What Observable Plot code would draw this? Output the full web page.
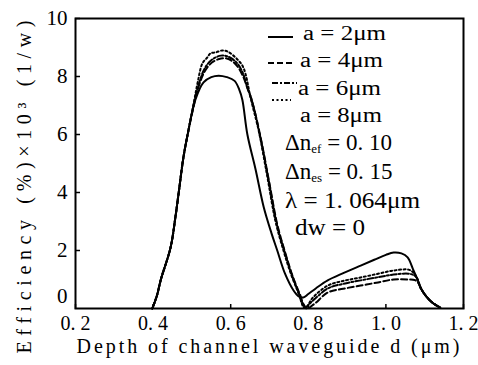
<!DOCTYPE html>
<html><head><meta charset="utf-8">
<script src="https://cdn.jsdelivr.net/npm/d3@7"></script>
<script src="https://cdn.jsdelivr.net/npm/@observablehq/plot@0.6"></script>
<style>
body{margin:0;background:#fff}
#chart{position:relative;width:478px;height:365px;overflow:hidden}
</style>
</head><body><div id="chart"></div>
<script>
// Series names
const seriesNames = ["a = 2μm", "a = 4μm", "a = 6μm", "a = 8μm"];
// Depth (μm) and efficiency (%×10³ 1/W)
const d_a2 = [0.398,0.41,0.42,0.445,0.458,0.468,0.478,0.489,0.509,0.53,0.55,0.569,0.59,0.61,0.622,0.63,0.643,0.664,0.685,0.705,0.72,0.74,0.762,0.775,0.787,0.80,0.82,0.85,0.89,0.935,0.97,1.0,1.02,1.04,1.056,1.07,1.08,1.09,1.105,1.12,1.14];
const e_a2 = [0,0.45,1.0,2.1,3.2,4.2,5.2,6.0,7.2,7.8,7.98,8.03,7.98,7.85,7.55,7.2,6.0,4.8,3.5,2.6,2.0,1.2,0.62,0.42,0.38,0.5,0.7,0.97,1.22,1.48,1.68,1.85,1.93,1.9,1.76,1.35,1.05,0.7,0.4,0.2,0.03];
const d_a4 = [0.398,0.41,0.42,0.445,0.458,0.468,0.478,0.489,0.505,0.515,0.53,0.545,0.56,0.575,0.59,0.605,0.62,0.632,0.643,0.656,0.677,0.70,0.72,0.741,0.76,0.778,0.795,0.815,0.85,0.89,0.935,0.98,1.02,1.058,1.075,1.085,1.09,1.105,1.12,1.14];
const e_a4 = [0,0.45,1.0,2.1,3.2,4.2,5.2,6.0,7.0,7.55,8.1,8.4,8.55,8.62,8.62,8.52,8.3,8.0,7.6,7.1,5.9,4.3,2.9,1.9,1.1,0.5,0.0,0.15,0.55,0.68,0.79,0.9,1.0,1.0,0.98,0.85,0.7,0.4,0.2,0.03];
const d_a6 = [0.398,0.41,0.42,0.445,0.458,0.468,0.478,0.489,0.505,0.515,0.53,0.545,0.56,0.575,0.59,0.605,0.62,0.632,0.641,0.654,0.675,0.698,0.718,0.739,0.758,0.775,0.79,0.81,0.85,0.89,0.935,0.98,1.02,1.058,1.072,1.08,1.09,1.105,1.12,1.14];
const e_a6 = [0,0.45,1.0,2.1,3.2,4.2,5.2,6.0,7.05,7.6,8.2,8.5,8.65,8.72,8.7,8.6,8.4,8.1,7.7,7.2,6.0,4.4,2.95,1.95,1.15,0.55,0.03,0.25,0.69,0.85,0.97,1.08,1.17,1.2,1.15,1.05,0.7,0.4,0.2,0.03];
const d_a8 = [0.398,0.41,0.42,0.445,0.458,0.468,0.478,0.489,0.505,0.515,0.527,0.54,0.548,0.561,0.579,0.592,0.607,0.62,0.63,0.638,0.651,0.672,0.695,0.715,0.736,0.755,0.772,0.785,0.795,0.81,0.85,0.89,0.935,0.98,1.02,1.058,1.07,1.08,1.09,1.105,1.12,1.14];
const e_a8 = [0,0.45,1.0,2.1,3.2,4.2,5.2,6.0,7.1,7.8,8.45,8.66,8.8,8.83,8.9,8.86,8.72,8.55,8.38,8.1,7.28,6.14,4.5,3.03,2.0,1.2,0.62,0.2,0.05,0.35,0.79,0.95,1.07,1.2,1.31,1.34,1.25,1.05,0.7,0.4,0.2,0.03];
// Axis ticks
const xTicks = [0.2,0.4,0.6,0.8,1.0,1.2];
const xTickLabels = ["0. 2","0. 4","0. 6","0. 8","1. 0","1. 2"];
const yTicks = [2,4,6,8,10];
const yTickLabels = ["2","4","6","8","10"];
const yZeroTick = [0];
// Annotation texts
const paramTexts = ["0. 10","0. 15"];

const depths = [d_a2, d_a4, d_a6, d_a8];
const effs = [e_a2, e_a4, e_a6, e_a8];
const dashes = [null, "6,3", "6,2,2,2", "2,2.5"];
const FONT = "'Liberation Serif', 'DejaVu Serif', serif";

const lineMarks = seriesNames.map((s, i) => {
  const rows = depths[i].map((d, j) => ({d, e: effs[i][j]}));
  return Plot.line(rows, {x: "d", y: "e", stroke: "#000", strokeWidth: 2,
    strokeDasharray: dashes[i] || undefined, curve: "catmull-rom"});
});

const plot = Plot.plot({
  width: 478, height: 365,
  marginLeft: 75, marginRight: 15, marginTop: 18, marginBottom: 57,
  x: {domain: [0.2, 1.2]},
  y: {domain: [0, 10]},
  style: {fontFamily: FONT, fontSize: "20px", color: "#000", background: "#fff"},
  marks: [
    ...lineMarks,
    Plot.frame({stroke: "#000", strokeWidth: 2}),
    Plot.axisX({ticks: xTicks, tickSize: -5, tickPadding: 11, strokeWidth: 1.5,
      tickFormat: (d, i) => xTickLabels[i], label: null, fontSize: 20, dy: 1}),
    Plot.axisY({ticks: yTicks, tickSize: -5, tickPadding: 13, strokeWidth: 1.5,
      tickFormat: (d, i) => yTickLabels[i], label: null, fontSize: 21}),
    Plot.axisY({ticks: yZeroTick, tickSize: 0, tickPadding: 8,
      tickFormat: d => String(d), label: null, fontSize: 21, dy: -12})
  ]
});
document.getElementById("chart").appendChild(plot);

const svg = d3.select(plot);
// axis titles
svg.append("text").attr("x", 268).attr("y", 353).attr("text-anchor", "middle")
  .attr("font-size", 20).attr("textLength", 383).attr("lengthAdjust", "spacing")
  .text("Depth of channel waveguide d (μm)");
svg.append("text").attr("transform", "translate(31,187) rotate(-90)").attr("text-anchor", "middle")
  .attr("font-size", 20).attr("textLength", 333).attr("lengthAdjust", "spacing")
  .text("Efficiency (%)×10³ (1/w)");

// legend
const leg = svg.append("g").attr("text-anchor", "start");
const sampleRows = [
  {y: 37, x1: 268, x2: 293, tx: 303, ty: 33, tw: 83},
  {y: 63, x1: 268, x2: 293, tx: 300, ty: 60, tw: 83},
  {y: 83, x1: 272, x2: 297, tx: 298, ty: 88, tw: 83},
  {y: 100, x1: 272, x2: 291, tx: 300, ty: 115, tw: 82}
];
sampleRows.forEach((r, i) => {
  leg.append("line").attr("x1", r.x1).attr("x2", r.x2).attr("y1", r.y).attr("y2", r.y)
    .attr("stroke", "#000").attr("stroke-width", 2).attr("stroke-dasharray", dashes[i]);
  leg.append("text").attr("x", r.tx).attr("y", r.ty).attr("dy", "0.35em")
    .attr("font-size", 20).attr("textLength", r.tw).attr("lengthAdjust", "spacingAndGlyphs")
    .text(seriesNames[i]);
});
function deltaLine(y, sub, val) {
  const t = leg.append("text").attr("x", 285).attr("y", y + 7).attr("font-size", 23);
  t.append("tspan").text("Δn");
  t.append("tspan").attr("font-size", 13).attr("dy", 3).text(sub);
  t.append("tspan").attr("dy", -3).text(" = " + val);
}
deltaLine(143, "ef", paramTexts[0]);
deltaLine(172, "es", paramTexts[1]);
leg.append("text").attr("x", 285).attr("y", 200).attr("dy", "0.35em")
  .attr("font-size", 23).attr("textLength", 135).attr("lengthAdjust", "spacingAndGlyphs")
  .text("λ = 1. 064μm");
leg.append("text").attr("x", 295).attr("y", 227).attr("dy", "0.35em")
  .attr("font-size", 23).attr("textLength", 70).attr("lengthAdjust", "spacingAndGlyphs")
  .text("dw = 0");

svg.selectAll("text").style("font-family", FONT);
</script>
</body></html>
